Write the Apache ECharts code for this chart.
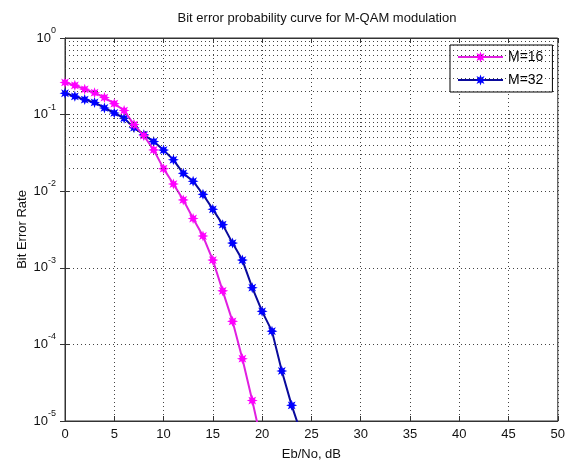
<!DOCTYPE html>
<html><head><meta charset="utf-8">
<script src="https://cdn.jsdelivr.net/npm/echarts@6/dist/echarts.min.js"></script>
<style>html,body{margin:0;padding:0;background:#fff}#c{width:568px;height:466px}</style>
</head><body><div id="c"></div>
<script>
const titleText = 'Bit error probability curve for M-QAM modulation';
const xName = 'Eb/No, dB';
const yName = 'Bit Error Rate';
const seriesNames = ['M=16', 'M=32'];
const ebno16 = [0,1,2,3,4,5,6,7,8,9,10,11,12,13,14,15,16,17,18,19,20];
const ber16 = [0.263,0.241,0.214,0.193,0.167,0.139,0.113,0.074,0.053,0.0346,0.0197,0.0124,0.0077,0.0044,0.0026,0.00126,0.0005,0.0002,6.5e-5,1.85e-5,4.9e-6];
const ebno32 = [0,1,2,3,4,5,6,7,8,9,10,11,12,13,14,15,16,17,18,19,20,21,22,23,24];
const ber32 = [0.19,0.173,0.157,0.144,0.122,0.105,0.0896,0.0675,0.0546,0.0444,0.0344,0.0257,0.0171,0.0135,0.0091,0.0058,0.00366,0.0021,0.00126,0.00055,0.00027,0.000149,4.5e-5,1.6e-5,6.6e-6];
const xMin = 0, xMax = 50, xStep = 5;
const yMin = 1e-5, yMax = 1;

function starPath(n, r1, r2) {
  let d = '';
  for (let i = 0; i < 2 * n; i++) {
    const a = i * Math.PI / n - Math.PI / 2;
    const r = (i % 2) ? r2 : r1;
    d += (i === 0 ? 'M' : 'L') + (r * Math.cos(a)).toFixed(3) + ',' + (r * Math.sin(a)).toFixed(3);
  }
  return 'path://' + d + 'Z';
}
const star = starPath(8, 10, 5);

const minorLines = [];
for (let e = -5; e < 0; e++) for (let m = 2; m <= 9; m++) minorLines.push({ yAxis: m * Math.pow(10, e) });

const dotted = { type: [1, 3], color: '#444', width: 1 };
const font = 'Liberation Sans, Arial, Helvetica, sans-serif';

const chart = echarts.init(document.getElementById('c'));
chart.setOption({
  animation: false,
  backgroundColor: '#fff',
  title: { text: titleText, left: 312, top: 7, textAlign: 'center',
    textStyle: { fontFamily: font, fontSize: 13, fontWeight: 'normal', color: '#111' } },
  legend: {
    orient: 'vertical', left: 450, top: 45,
    padding: [5, 9, 5, 7], itemGap: 9, itemWidth: 45, itemHeight: 14,
    borderColor: '#000', borderWidth: 1, backgroundColor: '#fff',
    textStyle: { fontFamily: font, fontSize: 14, color: '#000' },
    data: seriesNames
  },
  grid: { left: 65, top: 38, right: 9, bottom: 40, show: true, borderColor: '#333', borderWidth: 1, backgroundColor: '#fff' },
  xAxis: [{
    type: 'value', min: xMin, max: xMax, interval: xStep,
    name: xName, nameLocation: 'middle', nameGap: 27, nameMoveOverlap: false,
    nameTextStyle: { fontFamily: font, fontSize: 13, color: '#111' },
    axisLine: { show: true, lineStyle: { color: '#333' } },
    axisTick: { show: true, inside: true, length: 5, lineStyle: { color: '#333' } },
    axisLabel: { margin: 7, fontFamily: font, fontSize: 13, color: '#111' },
    splitLine: { show: true, lineStyle: dotted }
  }, {
    type: 'value', position: 'top', min: xMin, max: xMax, interval: xStep,
    axisLine: { show: true, lineStyle: { color: '#333' } },
    axisTick: { show: true, inside: true, length: 5, lineStyle: { color: '#333' } },
    axisLabel: { show: false }, splitLine: { show: false }
  }],
  yAxis: [{
    type: 'log', logBase: 10, min: yMin, max: yMax,
    name: yName, nameLocation: 'middle', nameGap: 36, nameMoveOverlap: false,
    nameTextStyle: { fontFamily: font, fontSize: 13, color: '#111' },
    axisLine: { show: true, lineStyle: { color: '#333' } },
    axisTick: { show: true, inside: true, length: 5, lineStyle: { color: '#333' } },
    axisLabel: {
      margin: 9,
      formatter: function (v) { return '{a|10}{b|' + Math.round(Math.log10(v)) + '}'; },
      rich: {
        a: { fontFamily: font, fontSize: 13, color: '#111', lineHeight: 24, verticalAlign: 'middle' },
        b: { fontFamily: font, fontSize: 9, color: '#111', lineHeight: 9, verticalAlign: 'top' }
      }
    },
    splitLine: { show: true, lineStyle: dotted }
  }, {
    type: 'log', logBase: 10, min: yMin, max: yMax, position: 'right',
    axisLine: { show: true, lineStyle: { color: '#333' } },
    axisTick: { show: true, inside: true, length: 5, lineStyle: { color: '#333' } },
    axisLabel: { show: false }, splitLine: { show: false }
  }],
  series: [{
    name: seriesNames[0], type: 'line', clip: true,
    data: ebno16.map((x, i) => [x, ber16[i]]),
    symbol: star, symbolSize: 11,
    lineStyle: { color: '#e020e0', width: 2 },
    itemStyle: { color: '#ff00ff' },
    markLine: { silent: true, symbol: 'none', label: { show: false },
      lineStyle: dotted, data: minorLines },
    z: 3
  }, {
    name: seriesNames[1], type: 'line', clip: true,
    data: ebno32.map((x, i) => [x, ber32[i]]),
    symbol: star, symbolSize: 11,
    lineStyle: { color: '#0a0a9c', width: 2 },
    itemStyle: { color: '#0000ff' },
    z: 2
  }]
});
</script></body></html>
